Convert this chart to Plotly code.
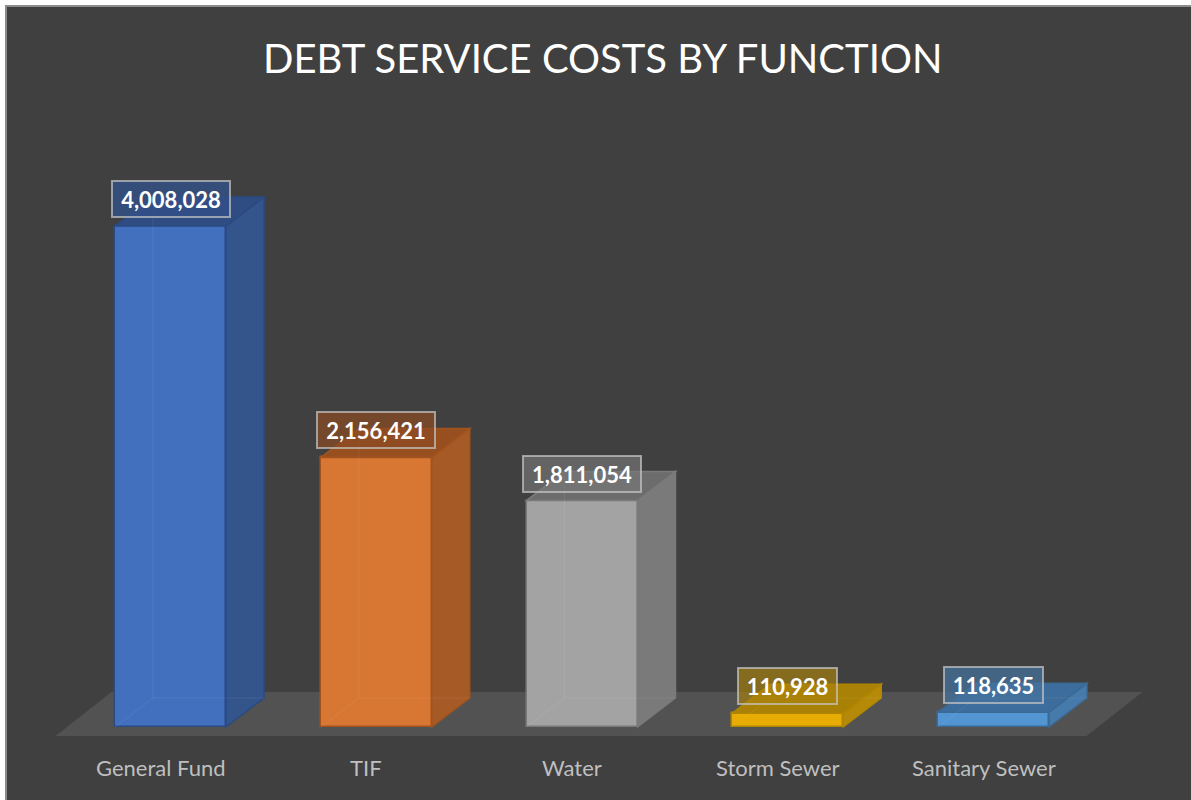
import plotly.graph_objects as go

# Debt service costs by fund/function
categories = ["General Fund", "TIF", "Water", "Storm Sewer", "Sanitary Sewer"]
values = [4008028, 2156421, 1811054, 110928, 118635]
value_labels = ["4,008,028", "2,156,421", "1,811,054", "110,928", "118,635"]

# Face colours per bar: front, side, top, edge, label box fill
front_colors = ["#4270bf", "#d87633", "#a3a3a3", "#e7ad05", "#5295d2"]
side_colors = ["#34548c", "#a65a25", "#7a7a7a", "#b58a09", "#457aab"]
top_colors = ["#2f4d82", "#974f20", "#6c6c6c", "#a98106", "#3d6d9c"]
edge_colors = ["#2a4a83", "#a4531d", "#7a7a7a", "#b08600", "#3b6a94"]
label_fills = ["rgba(50,80,135,0.80)", "rgba(140,75,35,0.70)", "rgba(120,120,120,0.65)",
               "rgba(170,130,10,0.65)", "rgba(70,115,160,0.70)"]

W, H = 1191, 800
BG = "#404040"

# Pixel geometry of the plotting frame (used to set axis ranges)
X0_PX, X_STEP_PX = 170.5, 205.75     # centre of first bar, spacing between bars
BASE_PX = 727                          # baseline row (from top)
UNITS_PER_PX = 8000.0                  # value units per vertical pixel
BAR_W = 111 / X_STEP_PX                # bar width in x units
DX = 38 / X_STEP_PX                    # 3-D depth offset, x units
DY = 29 * UNITS_PER_PX                 # 3-D depth offset, y units

x_range = [(0 - X0_PX) / X_STEP_PX, (W - X0_PX) / X_STEP_PX]
y_range = [-(H - BASE_PX) * UNITS_PER_PX, BASE_PX * UNITS_PER_PX]

xs = list(range(len(categories)))

fig = go.Figure()

# Front faces
fig.add_trace(go.Bar(
    x=xs, y=values, width=BAR_W,
    marker=dict(color=front_colors, line=dict(color=edge_colors, width=1.5)),
    hoverinfo="skip", showlegend=False,
))

shapes = []

# Outer chart frame
shapes.append(dict(type="rect", xref="paper", yref="paper",
                   x0=6 / W, x1=1.02, y0=-0.02, y1=1 - 6 / H,
                   fillcolor=BG, line=dict(color="#8c8c8c", width=2), layer="below"))

# Floor plane under the bars
f_front_y = -9 * UNITS_PER_PX
f_back_y = f_front_y + 44 * UNITS_PER_PX
f_dx = 56 / X_STEP_PX
f_left = xs[0] - BAR_W / 2 - 48 / X_STEP_PX - (9 * 56 / 44) / X_STEP_PX
f_right = xs[-1] + BAR_W / 2 + 49 / X_STEP_PX - (9 * 56 / 44) / X_STEP_PX
shapes.append(dict(type="path", xref="x", yref="y", layer="below",
                   path=f"M {f_left},{f_front_y} L {f_right},{f_front_y} "
                        f"L {f_right + f_dx},{f_back_y} L {f_left + f_dx},{f_back_y} Z",
                   fillcolor="#525252", line=dict(width=0)))

for i, v in enumerate(values):
    xl = xs[i] - BAR_W / 2
    xr = xs[i] + BAR_W / 2
    # right side face
    shapes.append(dict(type="path", xref="x", yref="y", layer="above",
                       path=f"M {xr},0 L {xr + DX},{DY} L {xr + DX},{v + DY} L {xr},{v} Z",
                       fillcolor=side_colors[i], line=dict(color=edge_colors[i], width=1.5)))
    # top face
    shapes.append(dict(type="path", xref="x", yref="y", layer="above",
                       path=f"M {xl},{v} L {xr},{v} L {xr + DX},{v + DY} L {xl + DX},{v + DY} Z",
                       fillcolor=top_colors[i], line=dict(color=edge_colors[i], width=1.5)))
    # faint hidden edges seen through the translucent front
    faint = dict(color="rgba(255,255,255,0.07)", width=1)
    shapes.append(dict(type="line", xref="x", yref="y", layer="above",
                       x0=xl + DX, x1=xl + DX, y0=DY, y1=v + DY, line=faint))
    shapes.append(dict(type="line", xref="x", yref="y", layer="above",
                       x0=xl, x1=xl + DX, y0=0, y1=DY, line=faint))
    shapes.append(dict(type="line", xref="x", yref="y", layer="above",
                       x0=xl + DX, x1=xr + DX, y0=DY, y1=DY, line=faint))

annotations = []

# Value labels in boxes above each bar
for i, v in enumerate(values):
    wide = len(value_labels[i]) > 7
    annotations.append(dict(
        x=xs[i], y=v, xref="x", yref="y", yshift=27,
        text=f"<b>{value_labels[i]}</b>", showarrow=False,
        font=dict(family="Lato", size=22, color="#ffffff"),
        bgcolor=label_fills[i], bordercolor="rgba(200,200,200,0.7)", borderwidth=2,
        borderpad=0, width=116 if wide else 97, height=34,
        xanchor="center", yanchor="middle", align="center",
    ))

# Category labels along the front edge
for i, c in enumerate(categories):
    annotations.append(dict(
        x=xs[i], y=0, xref="x", yref="y", xshift=-10, yshift=-40,
        text=c, showarrow=False,
        font=dict(family="Lato", size=22, color="#bfbfbf"),
        xanchor="center", yanchor="middle",
    ))

# Title
annotations.append(dict(
    x=602.5 / W, y=1 - 58 / H, xref="paper", yref="paper",
    text="DEBT SERVICE COSTS BY FUNCTION", showarrow=False,
    font=dict(family="Lato", size=40, color="#ffffff"),
    xanchor="center", yanchor="middle",
))

fig.update_layout(
    width=W, height=H,
    margin=dict(l=0, r=0, t=0, b=0),
    paper_bgcolor="#ffffff",
    plot_bgcolor="rgba(0,0,0,0)",
    xaxis=dict(range=x_range, visible=False, fixedrange=True),
    yaxis=dict(range=y_range, visible=False, fixedrange=True),
    shapes=shapes,
    annotations=annotations,
    showlegend=False,
    bargap=0,
)

fig.write_html("out.html", config={"displayModeBar": False})
